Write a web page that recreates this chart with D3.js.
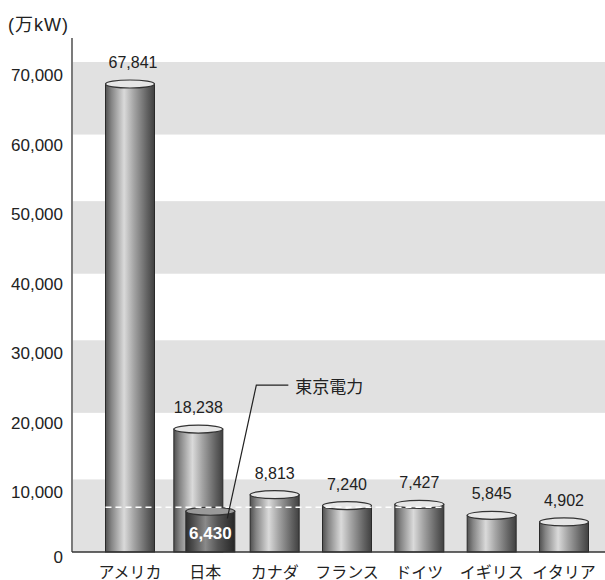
<!DOCTYPE html>
<html>
<head>
<meta charset="utf-8">
<script src="https://cdn.jsdelivr.net/npm/d3@7"></script>
<style>
  body { margin: 0; background: #fff; }
  svg text { font-family: "Liberation Sans", Arial, "Noto Sans CJK JP", sans-serif; fill: #222; }
</style>
</head>
<body>
<svg id="chart" width="605" height="580"></svg>
<script>
// 発電設備容量 (万kW)
const categories = ["アメリカ", "日本", "カナダ", "フランス", "ドイツ", "イギリス", "イタリア"];
const capacity = [67841, 18238, 8813, 7240, 7427, 5845, 4902];
const tepcoLabel = "東京電力";
const tepcoValue = 6430;
const yTicks = [0, 10000, 20000, 30000, 40000, 50000, 60000, 70000];
const bandRanges = [[0, 10000], [20000, 30000], [40000, 50000], [60000, 70000]];
const unitLabel = "(万kW)";

const svg = d3.select("#chart");
const fmt = d3.format(",");

const x = d3.scalePoint().domain(categories).range([130, 564]);
const y = d3.scaleLinear().domain([0, 70000]).range([552, 65]);
const barW = 49, ry = 4;
const axisX = 72, rightX = 605;

const defs = svg.append("defs");
function cylGrad(id, stops) {
    const g = defs.append("linearGradient").attr("id", id)
        .attr("x1", "0%").attr("x2", "100%").attr("y1", "0%").attr("y2", "0%");
    stops.forEach(s => g.append("stop").attr("offset", s[0]).attr("stop-color", s[1]));
}
cylGrad("barGrad", [["0%", "#505050"], ["12%", "#848484"], ["38%", "#dadada"], ["58%", "#a4a4a4"], ["85%", "#626262"], ["100%", "#404040"]]);
cylGrad("tepcoGrad", [["0%", "#2e2e2e"], ["15%", "#4e4e4e"], ["40%", "#8a8a8a"], ["65%", "#555"], ["100%", "#262626"]]);

// background bands
svg.append("g").selectAll("rect").data(bandRanges).join("rect")
    .attr("x", axisX + 1).attr("width", rightX - axisX - 1)
    .attr("y", d => y(d[1]) - 3).attr("height", d => y(d[0]) - y(d[1]) + 3)
    .attr("fill", "#e1e1e1");

// y axis labels
const yAxis = svg.append("g").attr("transform", `translate(${axisX},0)`)
    .call(d3.axisLeft(y).tickValues(yTicks).tickSize(0).tickPadding(9).tickFormat(fmt));
yAxis.select(".domain").remove();
yAxis.selectAll("text")
    .attr("font-size", 17)
    .attr("transform", d => `translate(0,${d === 0 ? 5 : 10})`);

svg.append("text").attr("x", 8).attr("y", 31).attr("font-size", 18)
    .attr("letter-spacing", 1).text(unitLabel);

// cylinders
function cylinder(g, cx, v, grad) {
    const top = y(v), base = y(0);
    g.append("rect")
        .attr("x", cx - barW / 2).attr("y", top + ry)
        .attr("width", barW).attr("height", base - top - ry)
        .attr("fill", `url(#${grad})`).attr("stroke", "#2a2a2a").attr("stroke-width", 1);
    g.append("ellipse")
        .attr("cx", cx).attr("cy", top + ry)
        .attr("rx", barW / 2).attr("ry", ry)
        .attr("fill", grad === "tepcoGrad" ? "#9a9a9a" : "#e6e6e6")
        .attr("stroke", "#333").attr("stroke-width", 1.2);
}

const barsG = svg.append("g");
categories.forEach((c, i) => {
    const cx = c === "日本" ? x(c) - 4 : x(c);
    cylinder(barsG, cx, capacity[i], "barGrad");
    svg.append("text")
        .attr("x", cx + (i === 0 ? 3 : 0)).attr("y", y(capacity[i]) - 12)
        .attr("text-anchor", "middle").attr("font-size", 16)
        .text(fmt(capacity[i]));
});

// 東京電力 inside 日本
const tx = x("日本") + 8;
cylinder(barsG, tx, tepcoValue, "tepcoGrad");
svg.append("text")
    .attr("x", tx).attr("y", (y(tepcoValue) + y(0)) / 2 + 9)
    .attr("text-anchor", "middle").attr("font-size", 17).attr("font-weight", "bold")
    .style("fill", "#fff").text(fmt(tepcoValue));

// dashed reference line at 東京電力 level
svg.append("line")
    .attr("x1", x("アメリカ") - barW / 2).attr("x2", x("ドイツ") + barW / 2)
    .attr("y1", y(tepcoValue)).attr("y2", y(tepcoValue))
    .attr("stroke", "#fff").attr("stroke-width", 1.6).attr("stroke-dasharray", "6,4");

// callout
const elbowY = y(24000);
svg.append("polyline")
    .attr("points", [[tx + 17, y(tepcoValue) + 11], [tx + 46, elbowY], [tx + 78, elbowY]].map(p => p.join(",")).join(" "))
    .attr("fill", "none").attr("stroke", "#222").attr("stroke-width", 1.2);
svg.append("text")
    .attr("x", tx + 85).attr("y", elbowY + 8)
    .attr("font-size", 17).text(tepcoLabel);

// axis lines
svg.append("line").attr("x1", axisX).attr("x2", axisX).attr("y1", y(70000) - 27).attr("y2", y(0))
    .attr("stroke", "#333").attr("stroke-width", 1.3);
svg.append("line").attr("x1", axisX).attr("x2", rightX).attr("y1", y(0)).attr("y2", y(0))
    .attr("stroke", "#333").attr("stroke-width", 1.3);

// category labels
svg.append("g").selectAll("text").data(categories).join("text")
    .attr("x", d => x(d) + (d === "日本" ? 3 : 0)).attr("y", 578)
    .attr("text-anchor", "middle").attr("font-size", 16)
    .text(d => d);
</script>
</body>
</html>
